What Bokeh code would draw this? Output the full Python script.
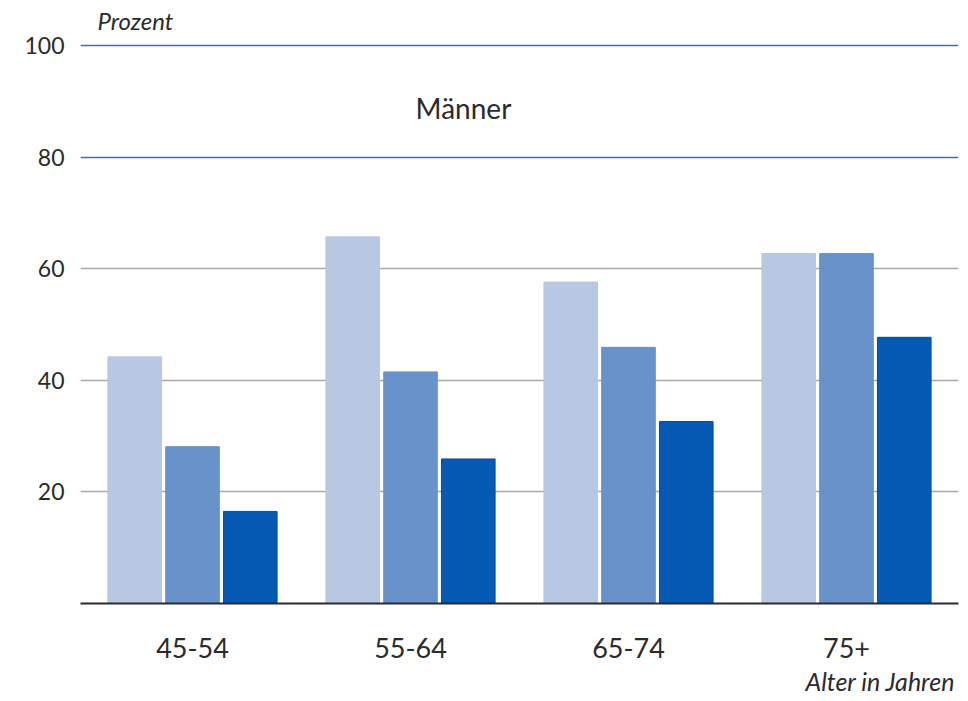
from bokeh.plotting import figure
from bokeh.models import ColumnDataSource, FactorRange, Range1d, FixedTicker, Grid, Label, Title
from bokeh.transform import dodge
from bokeh.embed import file_html
from bokeh.resources import INLINE

ages = ["45-54", "55-64", "65-74", "75+"]
serie_hell = [44.2, 65.7, 57.6, 62.7]
serie_mittel = [28.1, 41.5, 45.9, 62.7]
serie_dunkel = [16.5, 25.9, 32.6, 47.7]
y_ticks_grau = [20, 40, 60]
y_ticks_blau = [80, 100]

FONT = "Lato"
src = ColumnDataSource(dict(age=ages, hell=serie_hell, mittel=serie_mittel, dunkel=serie_dunkel))

p = figure(width=964, height=699, output_backend="svg", toolbar_location=None,
           x_range=FactorRange(factors=ages, range_padding=0.0069),
           y_range=Range1d(0, 108.05),
           min_border_left=80, min_border_right=6, min_border_top=0, min_border_bottom=95)
p.outline_line_color = None
p.background_fill_color = "white"
p.border_fill_color = "white"
p.xgrid.visible = False
p.ygrid.visible = False

g1 = Grid(dimension=1, ticker=FixedTicker(ticks=y_ticks_grau), grid_line_color="#a8a8a8", grid_line_width=1.5)
g2 = Grid(dimension=1, ticker=FixedTicker(ticks=y_ticks_blau), grid_line_color="#4d6e9c", grid_line_width=1.5)
p.add_layout(g1)
p.add_layout(g2)

w = 0.246
off = 0.265
p.vbar(x=dodge("age", -off, range=p.x_range), top="hell", width=w, source=src, color="#b8c8e2")
p.vbar(x=dodge("age", 0, range=p.x_range), top="mittel", width=w, source=src, color="#6892ca")
p.vbar(x=dodge("age", off, range=p.x_range), top="dunkel", width=w, source=src, color="#055ab4",
       line_color="#0a4a94", line_width=1)

p.yaxis.ticker = FixedTicker(ticks=y_ticks_grau + y_ticks_blau)
p.yaxis.axis_line_color = None
p.yaxis.major_tick_line_color = None
p.yaxis.minor_tick_line_color = None
p.yaxis.major_label_standoff = 10
p.yaxis.major_label_text_font = FONT
p.yaxis.major_label_text_font_size = "23px"
p.yaxis.major_label_text_color = "#2b2b2b"

p.xaxis.axis_line_color = "#2b2b2b"
p.xaxis.axis_line_width = 2
p.xaxis.major_tick_line_color = None
p.xaxis.minor_tick_line_color = None
p.xaxis.major_label_standoff = 28
p.xaxis.major_label_text_font = FONT
p.xaxis.major_label_text_font_size = "27px"
p.xaxis.major_label_text_color = "#2b2b2b"

p.add_layout(Label(x=0.064, y=104.5, text="Prozent", text_font=FONT, text_font_style="italic",
                   text_font_size="24px", text_color="#2b2b2b", text_baseline="middle"))
p.add_layout(Label(x=1.743, y=88.7, text="Männer", text_font=FONT, text_font_size="28px",
                   text_color="#2b2b2b", text_align="center", text_baseline="middle"))
p.add_layout(Title(text="Alter in Jahren", align="right", text_font=FONT, text_font_style="italic",
                   text_font_size="25px", text_color="#2b2b2b", standoff=7, offset=3), "below")

open("out.html", "w").write(file_html(p, INLINE))
